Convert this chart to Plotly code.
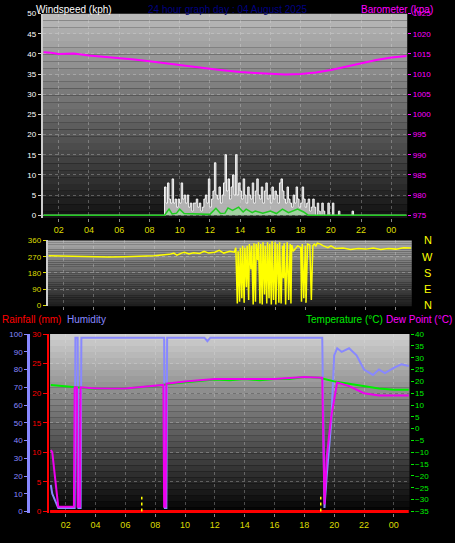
import plotly.graph_objects as go

# ---------------- data ----------------
hour_ticks = [2, 4, 6, 8, 10, 12, 14, 16, 18, 20, 22, 24]
hour_labels = ["02", "04", "06", "08", "10", "12", "14", "16", "18", "20", "22", "00"]

baro_t = [1, 1.5, 2, 3, 4, 5, 6, 7, 8, 9, 10, 11, 12, 13, 14, 15, 16, 17, 18, 19, 20, 21, 22, 23, 24, 25]
baro_v = [1015.4, 1015.3, 1015.0, 1015.1, 1014.6, 1014.3, 1014.0, 1013.6, 1013.2, 1012.7, 1012.2, 1011.8, 1011.3, 1010.9,
          1010.5, 1010.3, 1010.1, 1009.9, 1010.0, 1010.4, 1011.0, 1011.8, 1012.7, 1013.5, 1014.1, 1014.5]

gust_t = [1, 8.95, 9.0, 9.1, 9.2, 9.3, 9.4, 9.5, 9.6, 9.7, 9.8, 9.9, 10.0, 10.1, 10.2, 10.3, 10.4, 10.5, 10.6, 10.7, 10.8, 10.9,
          11.0, 11.1, 11.2, 11.3, 11.4, 11.5, 11.6, 11.7, 11.8, 11.9, 12.0, 12.1, 12.2, 12.3, 12.4, 12.5, 12.6, 12.7, 12.8, 12.9,
          13.0, 13.1, 13.2, 13.3, 13.4, 13.5, 13.6, 13.7, 13.8, 13.9, 14.0, 14.1, 14.2, 14.3, 14.4, 14.5, 14.6, 14.7, 14.8, 14.9,
          15.0, 15.1, 15.2, 15.3, 15.4, 15.5, 15.6, 15.7, 15.8, 15.9, 16.0, 16.1, 16.2, 16.3, 16.4, 16.5, 16.6, 16.7, 16.8, 16.9,
          17.0, 17.1, 17.2, 17.3, 17.4, 17.5, 17.6, 17.7, 17.8, 17.9, 18.0, 18.1, 18.2, 18.3, 18.4, 18.5, 18.6, 18.7, 18.8, 18.9,
          19.0, 19.1, 19.2, 19.3, 19.4, 19.5, 19.6, 19.7, 19.8, 19.9, 20.0, 20.1, 20.2, 20.3, 20.5, 20.6, 21.0, 21.4, 21.5, 25]
gust_v = [0, 0, 7, 3, 8, 4, 3, 9, 3, 4, 2, 4, 3, 8, 4, 5, 3, 5, 2, 3, 1, 3,
          3, 4, 2, 3, 1, 2, 4, 5, 3, 9, 2, 4, 6, 13, 5, 4, 7, 3, 5, 8,
          15, 6, 9, 4, 7, 10, 5, 15, 5, 8, 6, 4, 9, 5, 3, 7, 5, 4, 8, 3,
          6, 9, 5, 4, 7, 3, 6, 8, 4, 5, 3, 7, 4, 6, 5, 3, 8, 9, 6, 4,
          3, 7, 4, 3, 2, 5, 3, 7, 4, 2, 3, 7, 4, 2, 3, 4, 1, 2, 4, 2,
          0, 3, 1, 0, 3, 1, 0, 0, 3, 0, 0, 3, 0, 0, 1, 0, 0, 1, 0, 0]

avg_t = [1, 9.0, 9.3, 9.5, 9.8, 10.0, 10.3, 11.0, 12.0, 12.4, 12.7, 13.0, 13.2, 13.5, 13.9, 14.2, 14.4, 14.8, 15.0, 15.5,
         16.0, 16.4, 16.8, 17.2, 17.8, 18.2, 18.5, 25]
avg_v = [0, 0, 1.5, 0.3, 0.5, 1.5, 0.4, 0.3, 0.2, 1.7, 0.4, 0.5, 1.8, 1.2, 2.0, 0.8, 1.5, 0.6, 1.0, 0.5,
         1.0, 0.4, 1.5, 0.6, 1.5, 0.8, 0, 0]

dir_t = [1, 2, 3, 4, 5, 6, 7, 8, 8.5, 9, 9.3, 9.5, 9.8, 10, 10.3, 10.6, 11, 11.3, 11.6, 12, 12.3, 12.6, 13, 13.3, 13.4,
         13.5, 13.55, 13.65, 13.7, 13.8, 13.85, 13.95, 14.0, 14.1, 14.15, 14.25, 14.3, 14.4, 14.45, 14.55, 14.6, 14.7, 14.75,
         14.85, 14.9, 15.0, 15.05, 15.15, 15.2, 15.3, 15.35, 15.45, 15.5, 15.6, 15.65, 15.75, 15.8, 15.9, 16.0, 16.05, 16.15,
         16.25, 16.3, 16.4, 16.5, 16.55, 16.6, 16.7, 16.8, 16.9, 17.0, 17.05, 17.1, 17.2, 17.5, 17.7, 17.75, 17.8, 17.9, 18.0,
         18.05, 18.15, 18.3, 18.4, 18.5, 18.6, 18.7, 18.8, 19.0, 19.2, 19.5, 19.7, 20, 20.5, 21, 21.5, 22, 22.5, 23, 23.5,
         24, 24.5, 25]
dir_v = [275, 273, 268, 268, 268, 270, 272, 275, 280, 283, 290, 278, 290, 295, 285, 292, 288, 300, 290, 295, 305, 290, 300, 295, 320,
         10, 300, 20, 320, 40, 330, 15, 320, 100, 330, 30, 340, 200, 330, 5, 345, 20, 340,
         250, 350, 10, 340, 5, 350, 60, 330, 10, 350, 40, 340, 5, 355, 30, 350, 5, 340,
         15, 350, 10, 330, 150, 345, 5, 350, 30, 340, 10, 335, 300, 330, 320, 20, 340, 40, 330,
         15, 340, 335, 30, 330, 340, 330, 345, 340, 330, 320, 330, 315, 318, 310, 315, 312, 318, 310, 315,
         312, 320, 318]

hum_t = [1.0, 1.1, 1.5, 2.6, 2.65, 2.8, 2.85, 3.0, 3.05, 8.6, 8.65, 8.75, 8.8, 11.3, 11.5, 11.7, 19.2, 19.35, 19.5, 19.8,
         20.0, 20.2, 20.5, 21.0, 21.5, 22.0, 22.6, 23.0, 23.4, 24.0, 24.5, 25.0]
hum_v = [15, 10, 2, 2, 98, 98, 2, 2, 98, 98, 2, 2, 98, 98, 96, 98, 98, 2, 20, 50,
         88, 92, 90, 92, 88, 80, 77, 80, 78, 81, 83, 82]

temp_t = [1, 2, 3, 4, 5, 6, 7, 8, 9, 10, 11, 12, 13, 14, 15, 16, 17, 18, 19, 20, 21, 22, 23, 24, 25]
temp_v = [18.5, 18.0, 17.5, 16.8, 17.0, 17.0, 17.5, 18.0, 19.0, 19.5, 20.0, 20.8, 20.5, 21.0, 20.5, 21.0, 21.0, 21.8, 21.5,
          20.0, 19.0, 18.0, 17.0, 16.5, 16.5]

dew_t = [1.0, 1.1, 1.5, 2.55, 2.6, 2.75, 2.8, 2.95, 3.0, 4, 6, 8, 8.55, 8.6, 8.7, 8.75, 10, 12, 14, 16, 18, 19.2, 19.35,
         19.5, 19.8, 20.2, 21, 22, 23, 24, 25]
dew_v = [-9, -10, -33, -33, 17.5, 17.5, -33, -33, 17.5, 17, 17, 18, 18.5, -33, -33, 19, 20, 21, 21, 21, 21.8, 21.5, -32,
         -12, 5, 19.5, 18, 15, 14, 14, 14]

rain_t = [0.95, 25]
rain_v = [0, 0]
rate_marks = [7.1, 19.1]
rate_val = 2.5

# ---------------- figure ----------------
fig = go.Figure()
F = "Liberation Sans"
XR = [0.95, 25.05]

fig.add_trace(go.Scatter(x=gust_t, y=gust_v, mode="lines", line=dict(color="rgba(255,255,255,0.9)", width=1, shape="hv"),
                         fill="tozeroy", fillcolor="rgba(230,230,230,0.75)", xaxis="x", yaxis="y"))
fig.add_trace(go.Scatter(x=avg_t, y=avg_v, mode="lines", line=dict(color="#22cc22", width=1.5),
                         fill="tozeroy", fillcolor="rgba(150,230,150,0.6)", xaxis="x", yaxis="y"))
fig.add_trace(go.Scatter(x=baro_t, y=baro_v, mode="lines", line=dict(color="#ff00ff", width=2), xaxis="x", yaxis="y2"))
fig.add_trace(go.Scatter(x=dir_t, y=dir_v, mode="lines", line=dict(color="#ffff00", width=1.5), xaxis="x2", yaxis="y3"))
fig.add_trace(go.Scatter(x=rain_t, y=rain_v, mode="lines", line=dict(color="#ff0000", width=3), xaxis="x3", yaxis="y4"))
for m in rate_marks:
    fig.add_trace(go.Scatter(x=[m, m], y=[0, rate_val], mode="lines", line=dict(color="#ffff00", width=1.5, dash="dot"),
                             xaxis="x3", yaxis="y4"))
fig.add_trace(go.Scatter(x=hum_t, y=hum_v, mode="lines", line=dict(color="#8888ff", width=2), xaxis="x3", yaxis="y5"))
fig.add_trace(go.Scatter(x=temp_t, y=temp_v, mode="lines", line=dict(color="#00ee00", width=2), xaxis="x3", yaxis="y6"))
fig.add_trace(go.Scatter(x=dew_t, y=dew_v, mode="lines", line=dict(color="#ee00ee", width=2), xaxis="x3", yaxis="y6"))

grid = dict(showgrid=True, gridcolor="rgba(230,230,230,0.3)", griddash="dot", gridwidth=1, zeroline=False)
xcommon = dict(range=XR, tickvals=hour_ticks, ticktext=hour_labels, tickfont=dict(color="#dddd00", size=9, family=F),
               ticks="outside", ticklen=3, tickcolor="#888", **grid)

fig.update_layout(
    width=455, height=543, margin=dict(l=0, r=0, t=0, b=0), showlegend=False,
    paper_bgcolor="black", plot_bgcolor="rgba(0,0,0,0)",
    xaxis=dict(domain=[0.094, 0.895], anchor="y", **xcommon),
    yaxis=dict(domain=[0.600, 0.982], range=[-0.7, 50], dtick=5, tickfont=dict(color="white", size=8, family=F),
               showline=True, linecolor="#ccc", linewidth=2, ticks="outside", ticklen=3, tickcolor="#ccc", **grid),
    yaxis2=dict(overlaying="y", side="right", anchor="x", range=[974.3, 1025], dtick=5, showgrid=False, zeroline=False,
                tickfont=dict(color="#ff00ff", size=8, family=F), ticks="outside", ticklen=3, tickcolor="#ff00ff"),
    xaxis2=dict(domain=[0.105, 0.905], anchor="y3", **{**xcommon, "showticklabels": False}),
    yaxis3=dict(domain=[0.435, 0.558], range=[-5, 360], tickvals=[0, 90, 180, 270, 360], anchor="x2",
                tickfont=dict(color="#dddd00", size=8, family=F), ticks="outside", ticklen=3, tickcolor="#dddd00",
                showline=True, linecolor="#ccc", linewidth=2, **grid),
    xaxis3=dict(domain=[0.11, 0.90], anchor="y4", **xcommon),
    yaxis4=dict(domain=[0.048, 0.383], range=[-0.3, 30], dtick=5, anchor="free", position=0.105,
                tickfont=dict(color="#ff0000", size=8, family=F), ticks="outside", ticklen=4, tickcolor="#ff0000",
                showline=True, linecolor="#ff0000", linewidth=2, **grid),
    yaxis5=dict(overlaying="y4", anchor="free", position=0.062, range=[-1, 100], dtick=10, showgrid=False, zeroline=False,
                tickfont=dict(color="#8888ff", size=8, family=F), ticks="outside", ticklen=3, tickcolor="#8888ff",
                showline=True, linecolor="#8888ff", linewidth=3),
    yaxis6=dict(overlaying="y4", side="right", anchor="x3", range=[-35.8, 40], dtick=5, showgrid=False, zeroline=False,
                tickfont=dict(color="#00ee00", size=8, family=F), ticks="outside", ticklen=3, tickcolor="#00ee00"),
)

# gradient backgrounds
def gradient(xref, yref, top, bottom, n=30):
    for i in range(n):
        f = i / (n - 1)
        c = [int(top[k] + (bottom[k] - top[k]) * f) for k in range(3)]
        fig.add_shape(type="rect", xref=xref, yref=yref, x0=0, x1=1, y0=1 - (i + 1) / n, y1=1 - i / n,
                      fillcolor=f"rgb({c[0]},{c[1]},{c[2]})", line=dict(width=0), layer="below")

gradient("x domain", "y domain", (185, 185, 185), (20, 20, 20))
gradient("x2 domain", "y3 domain", (170, 170, 170), (30, 30, 30))
gradient("x3 domain", "y4 domain", (205, 205, 205), (5, 5, 5))

ann = [
    dict(text="Windspeed (kph)", x=0.075, y=1.003, xanchor="left", yanchor="top", font=dict(color="white", size=10)),
    dict(text="24 hour graph day : 04 August 2025", x=0.5, y=1.003, xanchor="center", yanchor="top",
         font=dict(color="#000080", size=10)),
    dict(text="Barometer (kpa)", x=0.955, y=1.003, xanchor="right", yanchor="top", font=dict(color="#ff00ff", size=10)),
    dict(text="Rainfall (mm)", x=0.0, y=0.41, xanchor="left", yanchor="middle", font=dict(color="#ff0000", size=10)),
    dict(text="Humidity", x=0.142, y=0.41, xanchor="left", yanchor="middle", font=dict(color="#8888ff", size=10)),
    dict(text="Temperature (°C)", x=0.847, y=0.41, xanchor="right", yanchor="middle", font=dict(color="#00ee00", size=10)),
    dict(text="Dew Point (°C)", x=0.998, y=0.41, xanchor="right", yanchor="middle", font=dict(color="#ff00ff", size=10)),
]
for a in ann:
    a.update(xref="paper", yref="paper", showarrow=False)
    a["font"]["family"] = F
for lab, v in zip(["N", "W", "S", "E", "N"], [360, 270, 180, 90, 0]):
    ann.append(dict(text=lab, x=0.94, y=v, xref="paper", yref="y3", showarrow=False, xanchor="center",
                    font=dict(color="#ffff00", size=11, family=F)))
fig.update_layout(annotations=ann)

fig.write_html("out.html", config={"displayModeBar": False},
               post_script="document.body.style.margin='0';document.body.style.background='black';")
